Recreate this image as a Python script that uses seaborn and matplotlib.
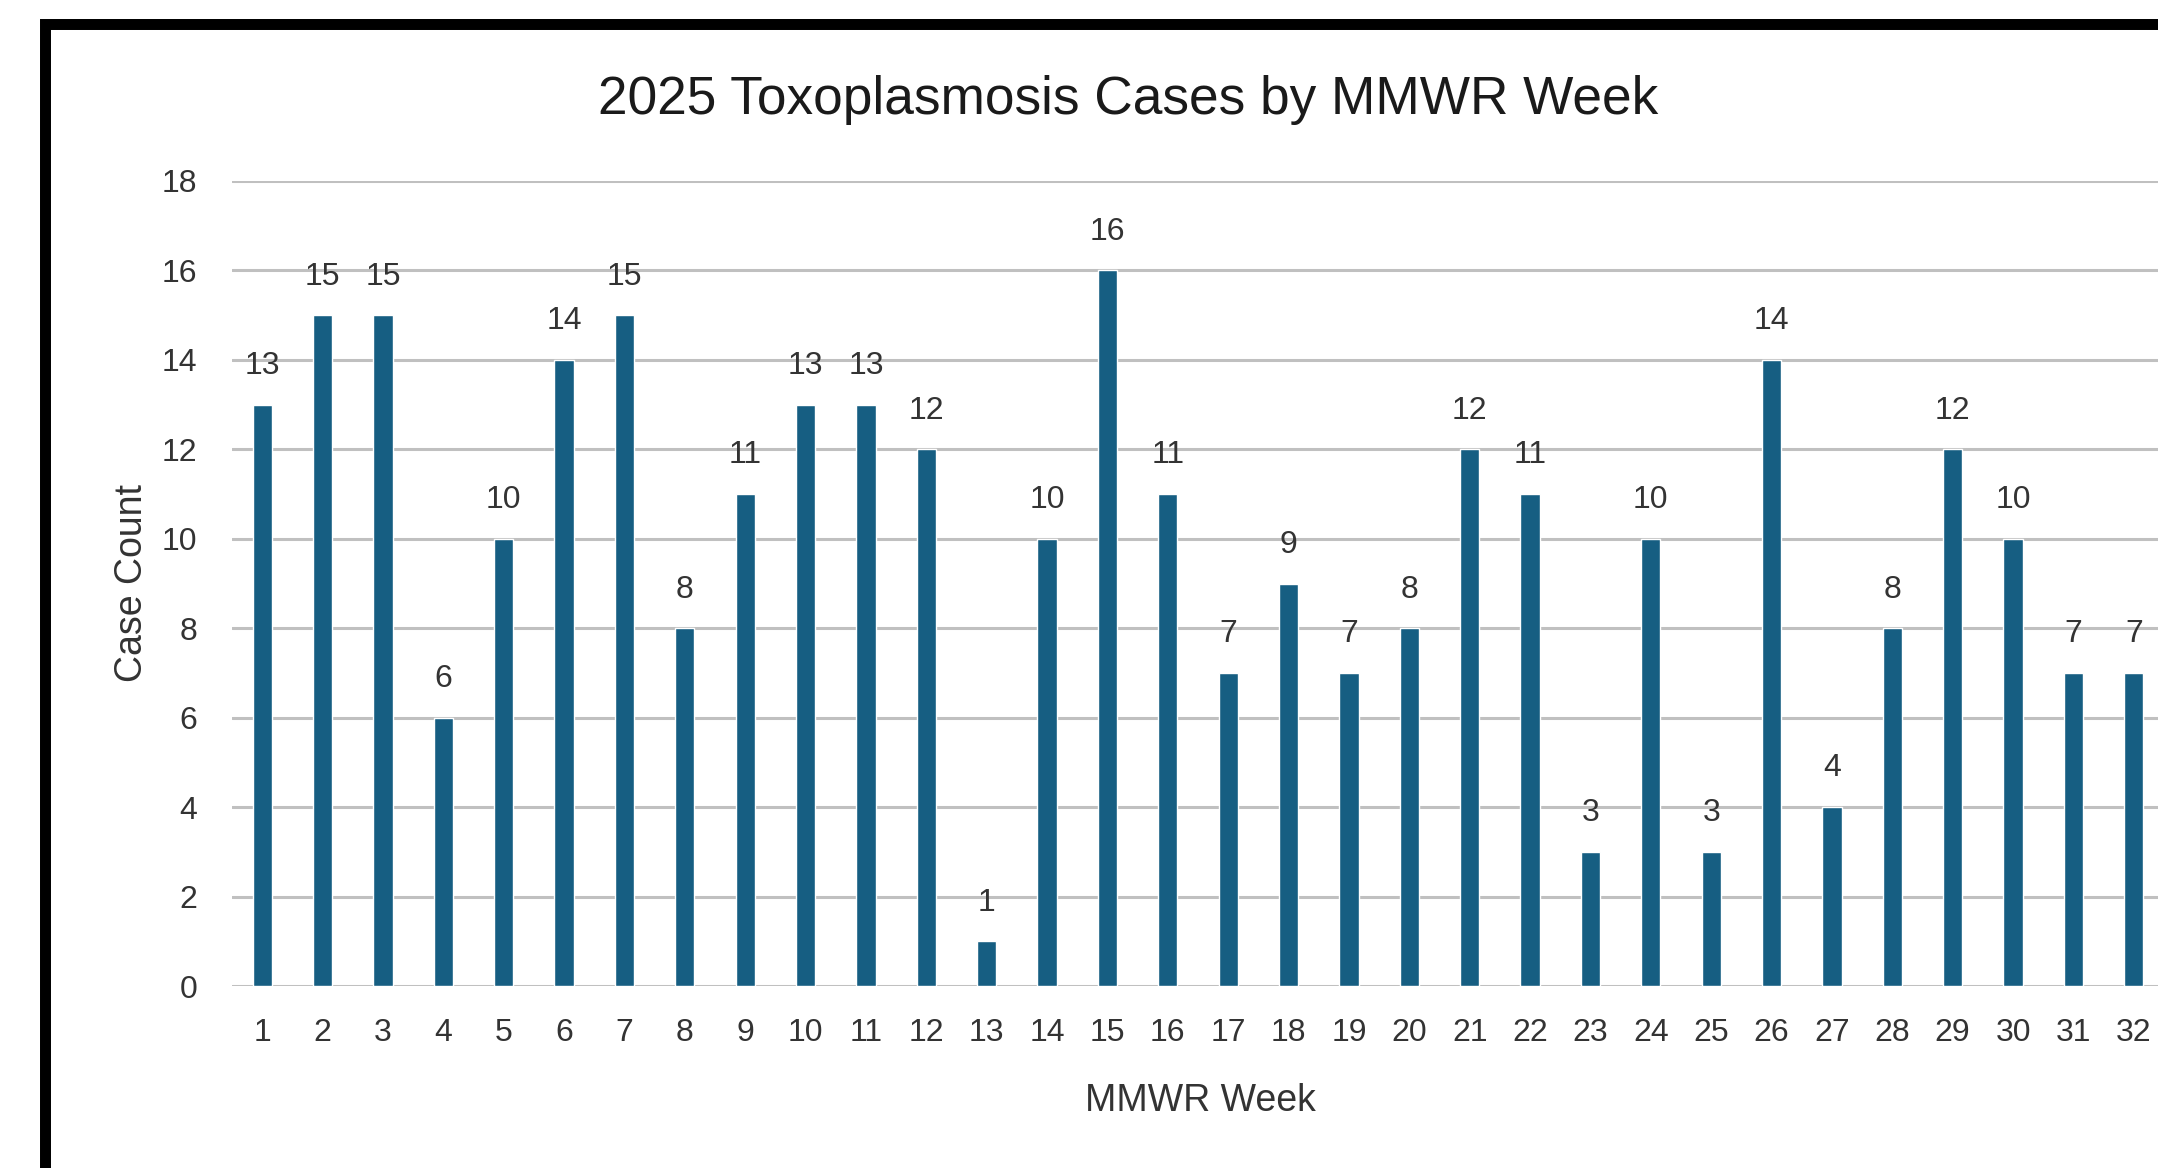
import numpy as np
import pandas as pd
import matplotlib
matplotlib.use("Agg")
import matplotlib.pyplot as plt
import seaborn as sns
from matplotlib.patches import Rectangle

# data
weeks = [str(w) for w in range(1, 33)]
cases = [13, 15, 15, 6, 10, 14, 15, 8, 11, 13, 13, 12, 1, 10, 16, 11,
         7, 9, 7, 8, 12, 11, 3, 10, 3, 14, 4, 8, 12, 10, 7, 7]
y_ticks = [0, 2, 4, 6, 8, 10, 12, 14, 16, 18]

title = "2025 Toxoplasmosis Cases by MMWR Week"
x_label = "MMWR Week"
y_label = "Case Count"

bar_color = "#165e82"
grid_color = "#c0c0c0"
text_color = "#333333"

sns.set_style("white")
plt.rcParams['font.family'] = ['Liberation Sans', 'DejaVu Sans']

df = pd.DataFrame({'week': weeks, 'cases': cases})

W, H = 2158, 1168
fig = plt.figure(figsize=(W / 100, H / 100), dpi=100)

# axes runs past the right edge, the original chart is cropped there
left, right, top, bottom = 232, 2164, 181, 986
ax = fig.add_axes([left / W, 1 - bottom / H, (right - left) / W, (bottom - top) / H])

sns.barplot(data=df, x='week', y='cases', color=bar_color, saturation=1,
            width=0.32, ax=ax)

ax.set_xlim(-0.5, len(weeks) - 0.5)
ax.set_ylim(0, 18)
ax.set_yticks(y_ticks)
ax.set_axisbelow(True)
ax.yaxis.grid(True, color=grid_color, linewidth=2.2)
ax.xaxis.grid(False)
for s in ax.spines.values():
    s.set_visible(False)

ax.tick_params(axis='both', length=0, labelsize=23, labelcolor=text_color)
ax.tick_params(axis='x', pad=23)
ax.tick_params(axis='y', pad=25)

ax.bar_label(ax.containers[0], padding=17, fontsize=23, color=text_color)

ax.set_xlabel(x_label, fontsize=27, color=text_color)
ax.set_ylabel(y_label, fontsize=27, color=text_color)
ax.xaxis.set_label_coords((1200 - left) / (right - left), (bottom - 1083) / (bottom - top))
ax.yaxis.set_label_coords((150 - left) / (right - left), 0.5)

fig.text(1128 / W, 1 - 114 / H, title, fontsize=38.3, color='#1a1a1a',
         ha='center', va='baseline')

# black frame around the chart, cropped at right and bottom
fig.add_artist(Rectangle((45 / W, -0.2), 2.0, 1.2 - 23.5 / H,
                         transform=fig.transFigure, fill=False,
                         edgecolor='black', linewidth=7.9))

fig.savefig('out.png', dpi=100)
plt.close(fig)
